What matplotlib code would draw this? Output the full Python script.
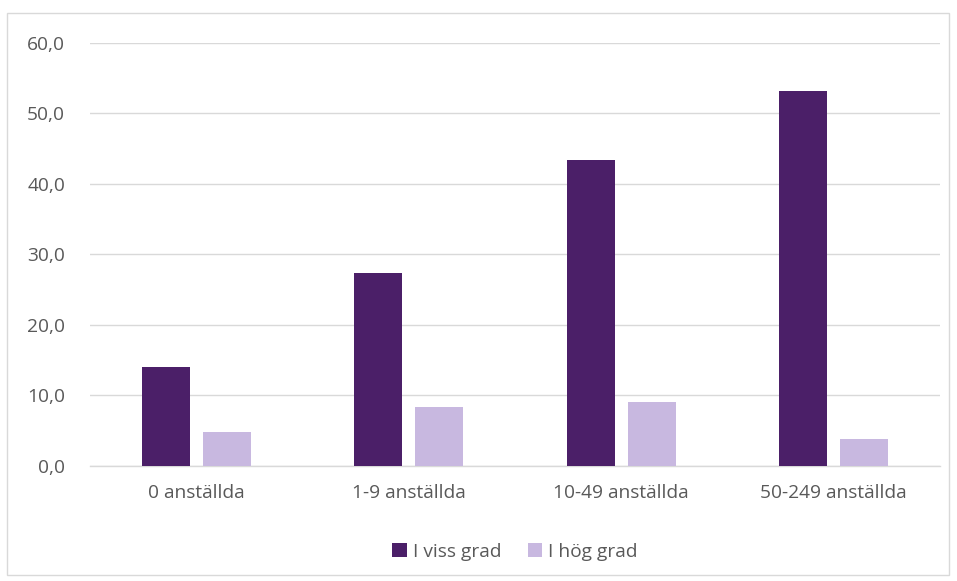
import numpy as np
import matplotlib.pyplot as plt
from matplotlib.patches import Rectangle
from matplotlib.ticker import FuncFormatter

# Data
categories = ['0 anställda', '1-9 anställda', '10-49 anställda', '50-249 anställda']
i_viss_grad = [14.0, 27.3, 43.3, 53.1]
i_hog_grad = [4.8, 8.4, 9.1, 3.8]
series_names = ['I viss grad', 'I hög grad']

dark = '#4b1f68'
light = '#c8b8e0'
text_col = '#595959'
grid_col = '#d9d9d9'

plt.rcParams['font.family'] = ['Open Sans', 'DejaVu Sans']

fig = plt.figure(figsize=(9.57, 5.81), dpi=100)
ax = fig.add_axes([90 / 957, 1 - 466 / 581, 850 / 957, (466 - 42.5) / 581])

# outer chart border
fig.patches.append(Rectangle((7 / 957, 6 / 581), 942 / 957, 562 / 581,
                             transform=fig.transFigure, fill=False,
                             edgecolor=grid_col, linewidth=1))

x = np.arange(len(categories))
w = 0.226
gap = 0.06
ax.bar(x - (w + gap) / 2, i_viss_grad, w, color=dark, label=series_names[0], zorder=3)
ax.bar(x + (w + gap) / 2, i_hog_grad, w, color=light, label=series_names[1], zorder=3)

ax.set_xlim(-0.5, len(categories) - 0.5)
ax.set_ylim(0, 60)
ax.set_yticks(np.arange(0, 61, 10))
ax.yaxis.set_major_formatter(FuncFormatter(lambda v, p: f'{v:.1f}'.replace('.', ',')))
ax.set_xticks(x)
ax.set_xticklabels(categories)

ax.grid(axis='y', color=grid_col, linewidth=1, zorder=0)
for s in ['top', 'right', 'left']:
    ax.spines[s].set_visible(False)
ax.spines['bottom'].set_color(grid_col)
ax.spines['bottom'].set_linewidth(1)
ax.tick_params(axis='both', length=0, labelsize=13.8, labelcolor=text_col)
ax.tick_params(axis='x', pad=13)
ax.tick_params(axis='y', pad=18)

ax.legend(loc='upper center', bbox_to_anchor=(0.5, -0.14), ncol=2, frameon=False,
          fontsize=13.8, labelcolor=text_col, handlelength=0.75, handleheight=0.75,
          handletextpad=0.3, columnspacing=1.4)

fig.savefig('out.png', dpi=100)
